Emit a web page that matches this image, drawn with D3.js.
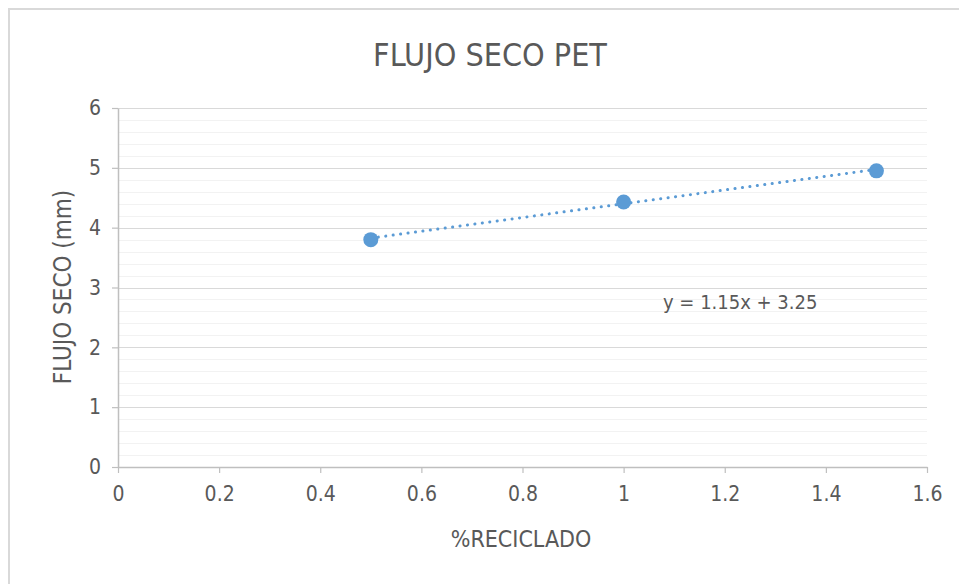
<!DOCTYPE html>
<html>
<head>
<meta charset="utf-8">
<script src="https://cdn.jsdelivr.net/npm/d3@7"></script>
<style>
  body { margin: 0; background: #ffffff; }
  svg { display: block; }
  text { font-family: "Liberation Sans Narrow", "DejaVu Sans Condensed", "Roboto", sans-serif; fill: #595959; }
</style>
</head>
<body>
<div id="chart"></div>
<script>

// data
var recicladoVals = [0.5, 1, 1.5];
var flujoVals = [3.8, 4.43, 4.95];
var xTickVals = [0, 0.2, 0.4, 0.6, 0.8, 1, 1.2, 1.4, 1.6];
var yTickVals = [0, 1, 2, 3, 4, 5, 6];
var trendSlope = 1.15;
var trendIntercept = 3.25;
var trendLabel = "y = 1.15x + 3.25";

var W = 959, H = 584;
var margin = {top: 108, right: 32, bottom: 117, left: 118};

var svg = d3.select("#chart")
    .append("svg")
    .attr("width", W)
    .attr("height", H);

// chart frame (only top + left edges visible)
svg.append("path")
    .attr("d", "M9," + H + " V9 H" + W)
    .attr("fill", "none")
    .attr("stroke", "#d9d9d9")
    .attr("stroke-width", 2);

var x = d3.scaleLinear().domain([0, 1.6]).range([margin.left, W - margin.right]);
var y = d3.scaleLinear().domain([0, 6]).range([H - margin.bottom, margin.top]);

// minor gridlines
var minorVals = d3.range(0, 6.0001, 0.2).filter(function(v){ return Math.abs(v - Math.round(v)) > 1e-6; });
svg.append("g")
    .selectAll("line")
    .data(minorVals)
    .join("line")
    .attr("x1", x(0)).attr("x2", x(1.6))
    .attr("y1", function(d){ return Math.round(y(d)) + 0.5; })
    .attr("y2", function(d){ return Math.round(y(d)) + 0.5; })
    .attr("stroke", "#f2f2f2")
    .attr("stroke-width", 1);

// major gridlines
svg.append("g")
    .selectAll("line")
    .data(yTickVals.slice(1))
    .join("line")
    .attr("x1", x(0)).attr("x2", x(1.6))
    .attr("y1", function(d){ return Math.round(y(d)) + 0.5; })
    .attr("y2", function(d){ return Math.round(y(d)) + 0.5; })
    .attr("stroke", "#d9d9d9")
    .attr("stroke-width", 1);

// axes
var fmt = function(d){ return String(d); };

var xAxis = svg.append("g")
    .attr("transform", "translate(0," + y(0) + ")")
    .call(d3.axisBottom(x).tickValues(xTickVals).tickSize(6).tickSizeOuter(0).tickPadding(13)
        .tickFormat(fmt));

var yAxis = svg.append("g")
    .attr("transform", "translate(" + x(0) + ",0)")
    .call(d3.axisLeft(y).tickValues(yTickVals).tickSize(6).tickSizeOuter(0).tickPadding(11)
        .tickFormat(fmt));

[xAxis, yAxis].forEach(function(a){
    a.select(".domain").attr("stroke", "#bfbfbf").attr("stroke-width", 1.5);
    a.selectAll(".tick line").attr("stroke", "#bfbfbf").attr("stroke-width", 1.2);
    a.selectAll(".tick text")
        .attr("fill", "#595959")
        .style("font-size", "21px")
        .style("font-family", "'Liberation Sans Narrow', 'DejaVu Sans Condensed', Roboto, sans-serif");
});

// trendline
var trendData = [d3.min(recicladoVals), d3.max(recicladoVals)].map(function(v){
    return [v, trendSlope * v + trendIntercept];
});
svg.append("path")
    .datum(trendData)
    .attr("d", d3.line().x(function(d){ return x(d[0]); }).y(function(d){ return y(d[1]); }))
    .attr("fill", "none")
    .attr("stroke", "#5b9bd5")
    .attr("stroke-width", 3)
    .attr("stroke-linecap", "round")
    .attr("stroke-dasharray", "0.1 7.4");

// markers
svg.append("g")
    .selectAll("circle")
    .data(recicladoVals)
    .join("circle")
    .attr("cx", function(d){ return x(d); })
    .attr("cy", function(d, i){ return y(flujoVals[i]); })
    .attr("r", 7.5)
    .attr("fill", "#5b9bd5");

// texts
svg.append("text")
    .attr("x", 490)
    .attr("y", 66)
    .attr("text-anchor", "middle")
    .style("font-size", "32px")
    .text("FLUJO SECO PET");

svg.append("text")
    .attr("x", 663)
    .attr("y", 309)
    .style("font-size", "20px")
    .text(trendLabel);

svg.append("text")
    .attr("x", 521)
    .attr("y", 547)
    .attr("text-anchor", "middle")
    .style("font-size", "23px")
    .text("%RECICLADO");

svg.append("text")
    .attr("transform", "translate(71," + 287 + ") rotate(-90)")
    .attr("text-anchor", "middle")
    .style("font-size", "24px")
    .text("FLUJO SECO (mm)");

</script>
</body>
</html>
